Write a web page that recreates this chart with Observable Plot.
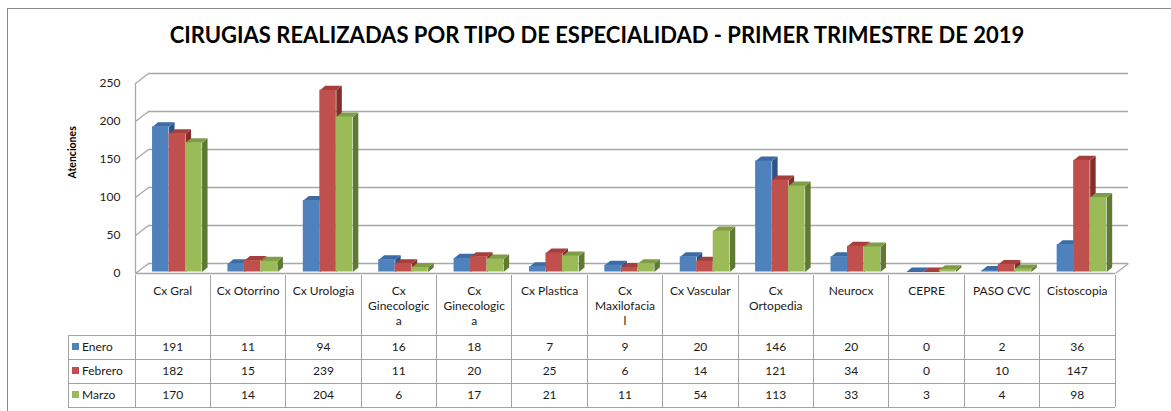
<!DOCTYPE html>
<html>
<head>
<meta charset="utf-8">
<script src="https://cdn.jsdelivr.net/npm/d3@7"></script>
<script src="https://cdn.jsdelivr.net/npm/@observablehq/plot@0.6"></script>
<style>
  html, body { margin: 0; padding: 0; background: #fff; }
  #wrap { position: relative; width: 1171px; height: 411px; overflow: hidden; background: #fff; font-family: Lato, "Liberation Sans", sans-serif; }
  #frame { position: absolute; left: 7px; top: 8px; width: 1300px; height: 500px; border-left: 1px solid #8a8a8a; border-top: 1px solid #8a8a8a; }
  #title { position: absolute; left: 597px; top: 22px; transform: translateX(-50%); white-space: nowrap; font-weight: bold; font-size: 22px; color: #000; line-height: 26px; }
  #chart { position: absolute; left: 0; top: 0; }
  .cell { position: absolute; box-sizing: border-box; font-size: 12px; color: #1a1a1a; text-align: center; }
  .hline, .vline { position: absolute; background: #a3a3a3; }
</style>
</head>
<body>
<div id="wrap">
  <div id="frame"></div>
  <div id="chart"></div>
  <div id="title"></div>
</div>
<script>
// ---- data ----
const titleText = "CIRUGIAS REALIZADAS POR TIPO DE ESPECIALIDAD - PRIMER TRIMESTRE DE 2019";
const yLabel = "Atenciones";
const categories = ["Cx Gral","Cx Otorrino","Cx Urologia","Cx Ginecologica","Cx Ginecologica","Cx Plastica","Cx Maxilofacial","Cx Vascular","Cx Ortopedia","Neurocx","CEPRE","PASO CVC","Cistoscopia"];
const headerLabels = ["Cx Gral","Cx Otorrino","Cx Urologia","Cx\nGinecologic\na","Cx\nGinecologic\na","Cx Plastica","Cx\nMaxilofacia\nl","Cx Vascular","Cx\nOrtopedia","Neurocx","CEPRE","PASO CVC","Cistoscopia"];
const seriesNames = ["Enero","Febrero","Marzo"];
const enero   = [191,11,94,16,18,7,9,20,146,20,0,2,36];
const febrero = [182,15,239,11,20,25,6,14,121,34,0,10,147];
const marzo   = [170,14,204,6,17,21,11,54,113,33,3,4,98];
const yTicks = [0,50,100,150,200,250];
const frontColors = ["#4F81BD","#C0504D","#9BBB59"];
const topColors   = ["#3D6BA5","#A43F3C","#7F9D47"];
const sideColors  = ["#2E5384","#862E2C","#5E7A32"];

// ---- layout ----
const W = 1171, H = 411;
const mL = 135, mR = 56, mT = 83, mB = 138;
const nCat = categories.length;
const colPx = (W - mL - mR) / nCat;
const yPx = (H - mT - mB) / 250;
const wallDX = 13 / colPx, wallDY = 10 / yPx;   // back-wall depth in data units
const barDX = 5.5 / colPx, barDY = 4.5 / yPx;   // bar depth in data units
const barW = 0.219, barOff = [0.226, 0.445, 0.664];

const allSeries = [enero, febrero, marzo];
const bars = [];
allSeries.forEach((vals, s) => vals.forEach((v, i) => {
  bars.push({s, i, v, id: s + "-" + i, x1: i + barOff[s], x2: i + barOff[s] + barW});
}));
const topPts = bars.flatMap(b => [[b.x1, b.v], [b.x1 + barDX, b.v + barDY], [b.x2 + barDX, b.v + barDY], [b.x2, b.v]]
  .map(([x, y]) => ({x, y, id: b.id, s: b.s})));
const sidePts = bars.flatMap(b => [[b.x2, 0], [b.x2, b.v], [b.x2 + barDX, b.v + barDY], [b.x2 + barDX, barDY]]
  .map(([x, y]) => ({x, y, id: b.id, s: b.s})));

const grid = "#a8a8a8";
const barMarks = [];
for (let s = 0; s < 3; s++) {
  barMarks.push(Plot.line(sidePts.filter(d => d.s === s), {x: "x", y: "y", z: "id", fill: sideColors[s], stroke: "none", curve: "linear", dy: -1.5}));
  barMarks.push(Plot.line(topPts.filter(d => d.s === s), {x: "x", y: "y", z: "id", fill: topColors[s], stroke: "none", curve: "linear", dy: -1.5}));
  barMarks.push(Plot.rectY(bars.filter(d => d.s === s), {x1: "x1", x2: "x2", y1: 0, y2: "v", fill: frontColors[s], dy: -1.5}));
}

const chart = Plot.plot({
  width: W, height: H,
  marginLeft: mL, marginRight: mR, marginTop: mT, marginBottom: mB,
  style: {fontFamily: "Lato, 'Liberation Sans', sans-serif", fontSize: "12px", color: "#222", background: "transparent"},
  x: {domain: [0, nCat], axis: null},
  y: {domain: [0, 250], axis: null},
  marks: [
    // back wall gridlines
    Plot.ruleY(yTicks, {x1: wallDX, x2: nCat + wallDX, y: d => d + wallDY, stroke: grid, strokeWidth: 1.6}),
    // left wall diagonals
    Plot.link(yTicks, {x1: 0, y1: d => d, x2: wallDX, y2: d => d + wallDY, stroke: grid, strokeWidth: 1.3}),
    // left front edge
    Plot.ruleX([0], {y1: 0, y2: 250, stroke: grid, strokeWidth: 1.3}),
    // floor: front edge and right diagonal
    Plot.ruleY([0], {x1: 0, x2: nCat, stroke: grid, strokeWidth: 1.3}),
    Plot.link([0], {x1: nCat, y1: 0, x2: nCat + wallDX, y2: wallDY, stroke: grid, strokeWidth: 1.3}),
    ...barMarks,
    Plot.axisY(yTicks, {tickSize: 0, tickPadding: 15, label: null, fontSize: 12, fill: "#222"}),
    Plot.text([yLabel], {frameAnchor: "left", dx: -63, rotate: -90, fontWeight: "bold", fontSize: 10.5, fill: "#000"})
  ]
});
document.getElementById("chart").appendChild(chart);
document.getElementById("title").textContent = titleText;

// ---- data table under the chart, columns from the x scale ----
const xs = chart.scale("x");
const wrap = document.getElementById("wrap");
const xAt = i => xs.apply(i);
const headTop = 275, rowTop = 335, rowH = 24, legLeft = 68;
function line(cls, l, t, w, h) {
  const d = document.createElement("div"); d.className = cls;
  Object.assign(d.style, {left: l + "px", top: t + "px", width: w + "px", height: h + "px"});
  wrap.appendChild(d);
}
function cell(html, l, t, w, h, extra) {
  const d = document.createElement("div"); d.className = "cell";
  Object.assign(d.style, {left: l + "px", top: t + "px", width: w + "px", height: h + "px"}, extra || {});
  d.innerHTML = html; wrap.appendChild(d);
}
const tableBottom = rowTop + rowH * seriesNames.length;
// vertical lines
for (let i = 0; i <= nCat; i++) line("vline", xAt(i) - 0.5, headTop, 1, tableBottom - headTop);
line("vline", legLeft - 0.5, rowTop, 1, tableBottom - rowTop);
// horizontal lines
for (let r = 0; r <= seriesNames.length; r++) line("hline", legLeft, rowTop + r * rowH - 0.5, xAt(nCat) - legLeft, 1);
// header labels
headerLabels.forEach((lab, i) => {
  cell(lab.split("\n").join("<br>"), xAt(i), headTop + 8, xAt(i + 1) - xAt(i), 60, {lineHeight: "15px"});
});
// rows
seriesNames.forEach((name, s) => {
  const t = rowTop + s * rowH;
  cell('<span style="display:inline-block;width:7px;height:7px;background:' + frontColors[s] + ';margin:0 3px 0 4px;vertical-align:1px"></span>' + name,
       legLeft, t, xAt(0) - legLeft, rowH, {textAlign: "left", lineHeight: rowH + "px"});
  allSeries[s].forEach((v, i) => cell(String(v), xAt(i), t, xAt(i + 1) - xAt(i), rowH, {lineHeight: rowH + "px"}));
});
</script>
</body>
</html>
